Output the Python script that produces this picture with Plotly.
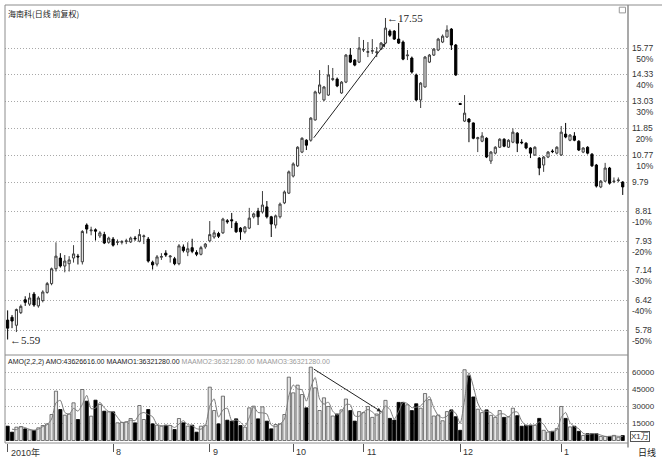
import numpy as np
import plotly.graph_objects as go

# ---------------- data ----------------
title_text = "海南科(日线 前复权)"

opens = [5.99, 6.05, 5.88, 6.15, 6.44, 6.34, 6.57, 6.30, 6.42, 6.61,
         6.82, 7.19, 7.47, 7.26, 7.32, 7.47, 7.52, 7.37, 8.40, 8.23,
         8.26, 8.08, 8.12, 7.90, 7.99, 7.90, 7.90, 7.92, 7.91, 8.02,
         7.93, 8.06, 7.99, 7.36, 7.31, 7.49, 7.60, 7.50, 7.45, 7.32,
         7.77, 7.63, 7.75, 7.62, 7.57, 7.77, 7.94, 8.05, 8.15, 8.17,
         8.53, 8.56, 8.46, 8.31, 8.20, 8.31, 8.65, 8.83, 8.80, 8.96,
         8.65, 8.40, 8.65, 9.09, 9.41, 10.00, 10.37, 10.89, 11.36, 11.36,
         12.21, 13.44, 13.11, 13.34, 14.10, 14.12, 13.44, 13.97, 15.38, 15.11,
         15.00, 15.66, 15.53, 15.60, 15.53, 15.71, 16.05, 16.75, 16.75, 16.28,
         16.11, 15.34, 15.22, 14.33, 13.11, 13.73, 15.00, 15.38, 15.66, 16.11,
         16.40, 16.87, 15.94, 12.95, 12.16, 12.25, 12.08, 11.42, 11.32, 11.44,
         10.55, 10.85, 11.08, 11.40, 11.08, 11.28, 11.65, 11.28, 11.24, 11.05,
         10.78, 10.66, 10.40, 10.70, 10.93, 10.85, 10.78, 11.61, 11.36, 11.53,
         11.32, 10.89, 11.08, 10.81, 10.40, 9.62, 9.82, 10.29, 9.80, 9.84,
         9.79]
highs = [6.20, 6.10, 6.24, 6.33, 6.52, 6.60, 6.62, 6.52, 6.66, 6.86,
         7.22, 7.90, 7.60, 7.55, 7.52, 7.82, 7.58, 8.25, 8.45, 8.35,
         8.30, 8.22, 8.20, 8.06, 8.05, 7.98, 7.96, 8.00, 8.06, 8.08,
         8.28, 8.12, 8.05, 7.40, 7.55, 7.60, 7.68, 7.55, 7.50, 7.85,
         7.84, 7.90, 8.00, 7.68, 7.80, 7.88, 8.52, 8.25, 8.20, 8.62,
         8.58, 8.77, 8.52, 8.34, 8.37, 8.93, 8.78, 8.93, 9.48, 9.15,
         8.68, 8.72, 9.10, 9.50, 10.20, 10.50, 11.12, 11.48, 11.40, 12.33,
         13.55, 14.58, 13.78, 14.84, 14.69, 14.20, 14.02, 15.44, 15.77, 15.16,
         16.40, 16.23, 16.11, 16.28, 15.83, 16.11, 17.55, 16.85, 16.81, 17.24,
         16.20, 15.66, 15.30, 14.40, 13.97, 15.33, 15.44, 15.77, 16.35, 16.55,
         17.10, 16.93, 16.00, 12.97, 13.34, 12.29, 12.10, 11.50, 11.69, 11.48,
         10.93, 11.12, 11.44, 11.44, 11.40, 11.85, 11.69, 11.40, 11.28, 11.08,
         11.12, 10.70, 10.74, 10.93, 11.00, 11.12, 11.95, 12.08, 11.61, 11.69,
         11.36, 11.08, 11.12, 10.85, 10.44, 9.86, 10.48, 10.33, 9.95, 9.95,
         9.82]
lows = [5.59, 5.82, 5.74, 6.12, 6.30, 6.30, 6.28, 6.26, 6.38, 6.58,
        6.78, 7.12, 7.22, 7.10, 7.12, 7.35, 7.30, 7.30, 8.15, 8.10,
        7.95, 8.02, 7.85, 7.86, 7.78, 7.82, 7.84, 7.85, 7.88, 7.94,
        7.90, 7.85, 7.35, 7.17, 7.25, 7.42, 7.50, 7.35, 7.28, 7.28,
        7.62, 7.52, 7.60, 7.52, 7.54, 7.72, 7.90, 8.00, 8.02, 8.14,
        8.44, 8.31, 8.17, 7.97, 8.15, 8.28, 8.60, 8.40, 8.75, 8.60,
        8.05, 8.30, 8.60, 9.05, 9.38, 9.95, 10.33, 10.85, 10.97, 11.30,
        12.18, 13.38, 13.05, 13.30, 14.02, 13.72, 13.40, 13.92, 14.95, 14.78,
        14.95, 15.55, 15.27, 15.44, 15.27, 15.66, 16.00, 16.40, 16.23, 16.00,
        15.10, 15.11, 14.40, 13.05, 12.74, 13.70, 14.95, 15.33, 15.60, 16.05,
        16.35, 15.66, 14.28, 12.88, 12.12, 11.28, 11.40, 10.89, 11.28, 10.66,
        10.44, 10.80, 11.05, 11.08, 11.05, 11.24, 10.89, 11.20, 11.00, 10.66,
        10.74, 10.03, 10.15, 10.66, 10.85, 10.80, 10.74, 11.44, 11.32, 11.32,
        10.93, 10.85, 10.80, 10.33, 9.60, 9.58, 9.79, 9.70, 9.75, 9.78,
        9.35]
closes = [5.82, 5.97, 6.22, 6.29, 6.38, 6.48, 6.32, 6.48, 6.62, 6.82,
          7.19, 7.52, 7.26, 7.39, 7.42, 7.58, 7.50, 8.21, 8.28, 8.25,
          8.22, 8.17, 7.88, 8.02, 7.82, 7.91, 7.92, 7.94, 8.02, 8.00,
          8.12, 8.08, 7.39, 7.29, 7.50, 7.51, 7.55, 7.52, 7.32, 7.80,
          7.67, 7.72, 7.65, 7.57, 7.75, 7.85, 8.12, 8.17, 8.07, 8.58,
          8.50, 8.53, 8.20, 8.20, 8.34, 8.61, 8.74, 8.65, 9.02, 8.65,
          8.43, 8.68, 9.05, 9.45, 10.15, 10.44, 11.08, 11.44, 11.16, 12.29,
          13.49, 13.83, 13.73, 14.33, 14.14, 13.78, 13.97, 15.38, 15.00, 14.84,
          15.77, 15.68, 15.57, 15.62, 15.55, 16.05, 16.93, 16.50, 16.28, 16.05,
          15.16, 15.38, 14.48, 13.11, 13.92, 15.27, 15.38, 15.71, 16.28, 16.45,
          16.81, 15.94, 14.33, 12.90, 12.51, 12.12, 11.44, 11.46, 11.53, 10.70,
          10.89, 11.08, 11.40, 11.12, 11.36, 11.69, 11.24, 11.26, 11.05, 10.85,
          11.08, 10.29, 10.70, 10.89, 10.91, 11.08, 11.69, 11.49, 11.57, 11.36,
          10.97, 11.05, 10.85, 10.37, 9.65, 9.82, 10.29, 9.75, 9.82, 9.86,
          9.62]
# traded amount, unit: 10,000 yuan (x1万)
amounts = [12640, 7350, 11760, 12350, 10290, 9400, 8820, 11170, 13230, 14700,
           22930, 43510, 27340, 22340, 23520, 33220, 18520, 44980, 34690, 21460,
           35570, 31750, 25870, 25280, 25280, 15580, 16000, 16460, 19400, 15580,
           30870, 18520, 27340, 14700, 13520, 12640, 13520, 13230, 9700, 19400,
           15580, 12640, 13520, 7350, 12640, 13520, 47040, 26460, 14700, 39100,
           17930, 17050, 19110, 13230, 11760, 28810, 30280, 19110, 29690, 17050,
           10290, 14110, 14700, 22930, 55860, 42040, 48800, 40570, 28810, 64680,
           46450, 26460, 37630, 30000, 21600, 23400, 27000, 36600, 26400, 17100,
           25500, 24600, 30000, 20400, 23400, 25500, 35400, 19500, 18000, 33600,
           33600, 31500, 26400, 32400, 28500, 41400, 36000, 21600, 22500, 17400,
           25500, 27000, 21000, 9000, 62400, 57000, 38400, 27600, 24600, 27000,
           22200, 20400, 26400, 20400, 21000, 28500, 21900, 12600, 13500, 13500,
           13500, 19500, 9000, 7500, 8100, 10500, 30000, 19500, 12000, 12600,
           8100, 4500, 6000, 6000, 6000, 3600, 3600, 3600, 4500, 2901.5944,
           4362.6616]

month_start = [0, 24, 46, 65, 81, 103, 126]
month_labels = ["2010年", "8", "9", "10", "11", "12", "1"]

price_ticks = [15.77, 14.33, 13.03, 11.85, 10.77, 9.79, 8.81, 7.93, 7.14, 6.42, 5.78]
price_pcts = ["50%", "40%", "30%", "20%", "10%", "", "-10%", "-20%", "-30%", "-40%", "-50%"]
amount_ticks = [60000, 45000, 30000, 15000]

# ---------------- figure ----------------
n = len(closes)
idx = list(range(n))
up = [c >= o for o, c in zip(opens, closes)]

ma2 = [(amounts[i] + amounts[i - 1]) / 2 for i in range(1, n)]

VOL_TOP = 88 / 438
font_main = "Liberation Sans, Noto Sans CJK SC, sans-serif"
grid_dash = "1px,2px"

fig = go.Figure()
fig.add_trace(go.Candlestick(
    x=idx, open=opens, high=highs, low=lows, close=closes,
    increasing=dict(line=dict(color="#3c3c3c", width=1), fillcolor="#f4f4f4"),
    decreasing=dict(line=dict(color="#000000", width=1), fillcolor="#000000"),
    whiskerwidth=0, xaxis="x", yaxis="y", showlegend=False, hoverinfo="skip"))

fig.add_trace(go.Bar(
    x=idx, y=amounts, xaxis="x", yaxis="y2",
    marker=dict(color=["#e6e6e6" if u else "#000000" for u in up],
                line=dict(color=["#555555" if u else "#000000" for u in up], width=0.8)),
    showlegend=False, hoverinfo="skip"))

fig.add_trace(go.Scatter(
    x=idx[1:], y=ma2, xaxis="x", yaxis="y2", mode="lines",
    line=dict(color="#7a7a7a", width=1, shape="spline", smoothing=0.6),
    showlegend=False, hoverinfo="skip"))

ann = []
# right price labels
for v, p in zip(price_ticks, price_pcts):
    txt = f"{v:.2f}<br>{p}" if p else f"{v:.2f}"
    ann.append(dict(x=1, xref="paper", xanchor="left", xshift=2,
                    y=np.log10(v), yref="y", yanchor="middle",
                    yshift=-5 if p else 0, text=txt, align="right",
                    showarrow=False, font=dict(size=8.5, color="#333", family=font_main)))
for v in amount_ticks:
    ann.append(dict(x=1, xref="paper", xanchor="left", xshift=2, y=v, yref="y2",
                    yanchor="middle", text=str(v), showarrow=False,
                    font=dict(size=8, color="#333", family=font_main)))
ann.append(dict(x=1, xref="paper", xanchor="left", xshift=2, y=0, yref="paper",
                yanchor="bottom", yshift=1, text="X1万", showarrow=False,
                bordercolor="#555", borderwidth=1, borderpad=0,
                font=dict(size=8, color="#333", family=font_main)))
ann.append(dict(x=1, xref="paper", xanchor="left", xshift=8, y=0, yref="paper",
                yanchor="top", yshift=-2, text="日线", showarrow=False,
                font=dict(size=9, color="#222", family=font_main)))
# month labels
for m, lab in zip(month_start, month_labels):
    ann.append(dict(x=m, xref="x", xanchor="left", xshift=1, y=0, yref="paper",
                    yanchor="top", yshift=-2, text=lab, showarrow=False,
                    font=dict(size=9, color="#333", family=font_main)))
# titles
ann.append(dict(x=0, xref="paper", xanchor="left", xshift=1, y=1, yref="paper",
                yanchor="top", yshift=-1, text=title_text, showarrow=False,
                font=dict(size=8, color="#222", family="Noto Sans CJK SC")))
amo = amounts[-1] * 10000
ma_last = ma2[-1] * 10000
hdr = (f"AMO(2,2,2) AMO:{amo:.2f} MAAMO1:{ma_last:.2f} "
       f"<span style='color:#9a9a9a'>MAAMO2:{ma_last:.2f} MAAMO3:{ma_last:.2f}</span>")
ann.append(dict(x=0, xref="paper", xanchor="left", xshift=1, y=VOL_TOP, yref="paper",
                yanchor="top", yshift=-1, text=hdr, showarrow=False,
                font=dict(size=7, color="#222", family=font_main)))
# high / low marks
hi_i = int(np.argmax(highs))
lo_i = int(np.argmin(lows))
ann.append(dict(x=hi_i, xref="x", y=np.log10(highs[hi_i]), yref="y", xanchor="left",
                yanchor="middle", text="←17.55", showarrow=False,
                font=dict(size=11, color="#222", family="Liberation Serif")))
ann.append(dict(x=lo_i, xref="x", y=np.log10(lows[lo_i]), yref="y", xanchor="left",
                yanchor="middle", text="←5.59", showarrow=False,
                font=dict(size=11, color="#222", family="Liberation Serif")))
# trend arrows
ann.append(dict(x=86, xref="x", y=np.log10(opens[86]), yref="y",
                ax=69, axref="x", ay=np.log10(lows[69]), ayref="y",
                showarrow=True, arrowhead=2, arrowsize=0.8, arrowwidth=1, arrowcolor="#222"))
ann.append(dict(x=85, xref="x", y=amounts[85], yref="y2",
                ax=69, axref="x", ay=amounts[69], ayref="y2",
                showarrow=True, arrowhead=2, arrowsize=0.8, arrowwidth=1, arrowcolor="#222"))

line_c = "#8c8c8c"
shapes = [
    dict(type="line", xref="paper", yref="paper", x0=0, x1=0, y0=0, y1=1, line=dict(color=line_c, width=1)),
    dict(type="line", xref="paper", yref="paper", x0=0, x1=1.06, y0=1, y1=1, line=dict(color=line_c, width=1)),
    dict(type="line", xref="paper", yref="paper", x0=1, x1=1, y0=-0.01, y1=1, line=dict(color=line_c, width=1.5)),
    dict(type="line", xref="paper", yref="paper", x0=0, x1=1, y0=VOL_TOP, y1=VOL_TOP, line=dict(color=line_c, width=1)),
    dict(type="line", xref="paper", yref="paper", x0=0, x1=1, y0=0, y1=0, line=dict(color=line_c, width=1)),
    dict(type="rect", xref="paper", yref="paper", x0=0.986, x1=0.996, y0=0.982, y1=0.995,
         line=dict(color="#999", width=1)),
]

fig.update_layout(
    width=662, height=461,
    margin=dict(l=5, r=34, t=5, b=18),
    paper_bgcolor="white", plot_bgcolor="white",
    bargap=0.28,
    xaxis=dict(range=[-0.6, 141.2], anchor="y2", tickvals=month_start,
               ticktext=[""] * len(month_start), ticks="outside", ticklen=8,
               tickcolor="#555", tickwidth=1, showgrid=False, zeroline=False,
               showline=False, rangeslider=dict(visible=False), fixedrange=True),
    yaxis=dict(domain=[VOL_TOP, 1], type="log",
               range=[np.log10(5.29), np.log10(18.38)],
               tickvals=price_ticks, showticklabels=False, showgrid=True,
               gridcolor="#a8a8a8", griddash=grid_dash, gridwidth=1, zeroline=False),
    yaxis2=dict(domain=[0, VOL_TOP], range=[-2200, 75400], tickvals=amount_ticks,
                showticklabels=False, showgrid=True, gridcolor="#a8a8a8",
                griddash=grid_dash, gridwidth=1, zeroline=False),
    annotations=ann, shapes=shapes,
    font=dict(family=font_main),
)

fig.write_html("out.html", config={"displayModeBar": False},
               post_script="document.body.style.margin='0';document.body.style.overflow='hidden';")
